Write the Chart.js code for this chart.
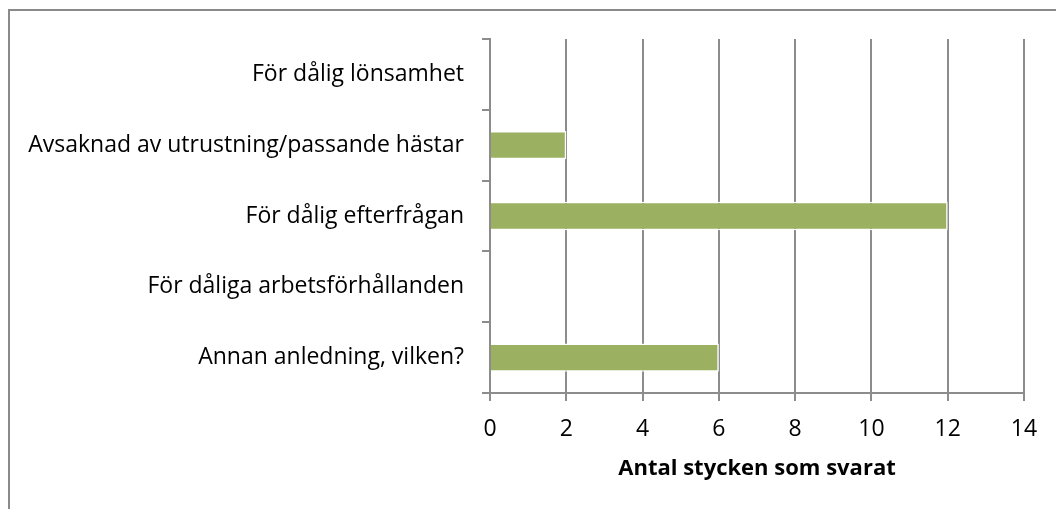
<!DOCTYPE html>
<html>
<head>
<meta charset="utf-8">
<script src="https://cdn.jsdelivr.net/npm/chart.js@4"></script>
<style>
  html, body { margin: 0; padding: 0; background: #fff; }
  #wrap { width: 1056px; height: 509px; position: relative; }
</style>
</head>
<body>
<div id="wrap"><canvas id="myChart" width="1056" height="509"></canvas></div>
<script>
const categories = [
  'För dålig lönsamhet',
  'Avsaknad av utrustning/passande hästar',
  'För dålig efterfrågan',
  'För dåliga arbetsförhållanden',
  'Annan anledning, vilken?'
];
const counts = [0, 2, 12, 0, 6];
const xTitle = 'Antal stycken som svarat';

// outer frame, only top and left edge are visible in the picture
const frame = {
  id: 'frame',
  beforeDraw(chart) {
    const c = chart.ctx;
    c.save();
    c.strokeStyle = '#8a8a8a';
    c.lineWidth = 2;
    c.beginPath();
    c.moveTo(9, 520);
    c.lineTo(9, 10);
    c.lineTo(1070, 10);
    c.stroke();
    c.restore();
  }
};

const cfg = {
  type: 'bar',
  data: {
    labels: categories,
    datasets: [{
      data: counts,
      backgroundColor: '#9bb060',
      borderColor: '#ffffff',
      borderWidth: 1.5,
      borderSkipped: 'start',
      barPercentage: 0.4,
      categoryPercentage: 1
    }]
  },
  options: {
    indexAxis: 'y',
    responsive: false,
    animation: false,
    layout: { padding: { top: 39, right: 32, bottom: 23, left: 0 } },
    plugins: {
      legend: { display: false },
      tooltip: { enabled: false }
    },
    scales: {
      x: {
        min: 0,
        max: 14,
        ticks: {
          stepSize: 2,
          color: '#000',
          padding: 15,
          font: { family: 'Open Sans', size: 23 }
        },
        grid: {
          color: '#8c8c8c',
          lineWidth: 2,
          tickLength: 8
        },
        border: { color: '#8c8c8c', width: 2 },
        title: {
          display: true,
          text: xTitle,
          color: '#000',
          font: { family: 'Open Sans', size: 22, weight: 'bold' },
          padding: { top: 10 }
        },
        afterFit(scale) { scale.height = 93; }
      },
      y: {
        ticks: {
          color: '#000',
          padding: 18,
          font: { family: 'Open Sans', size: 23 }
        },
        grid: {
          drawOnChartArea: false,
          color: '#8c8c8c',
          lineWidth: 2,
          tickLength: 8
        },
        border: { color: '#8c8c8c', width: 2 },
        afterFit(scale) { scale.width = 490; }
      }
    }
  },
  plugins: [frame]
};

const ctx = document.getElementById('myChart');
new Chart(ctx, cfg);
</script>
</body>
</html>
